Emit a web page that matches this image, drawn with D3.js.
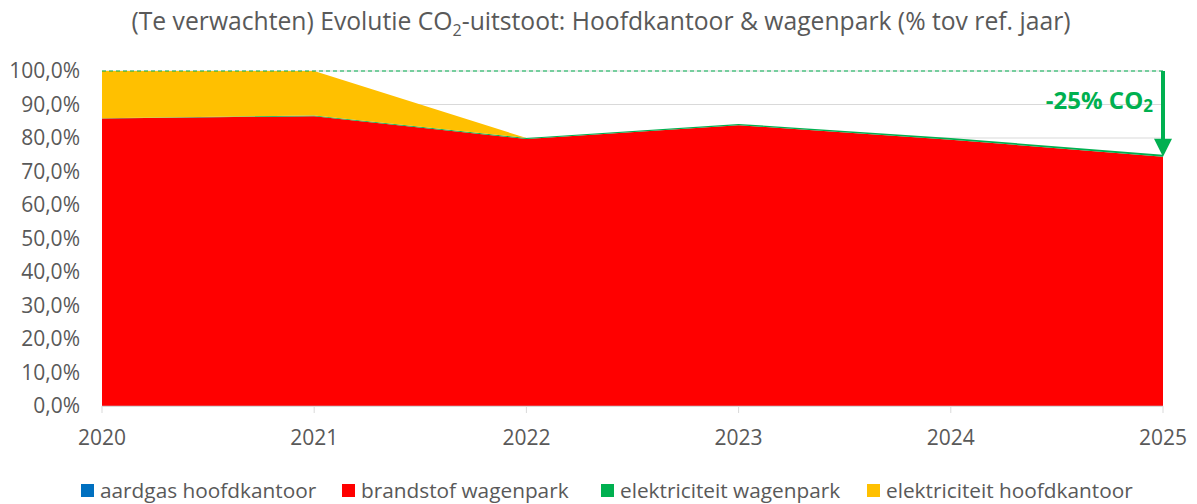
<!DOCTYPE html>
<html>
<head>
<meta charset="utf-8">
<script src="https://cdn.jsdelivr.net/npm/d3@7.9.0/dist/d3.min.js"></script>
<style>
  body { margin: 0; background: #fff; }
  svg { font-family: "Open Sans", sans-serif; }
</style>
</head>
<body>
<svg width="1197" height="504"></svg>
<script>
const years = [2020, 2021, 2022, 2023, 2024, 2025];
const aardgasHoofdkantoor = [0.1, 0.1, 0.1, 0.1, 0.1, 0.1];
const brandstofWagenpark = [85.7, 86.4, 79.6, 83.7, 79.4, 74.3];
const elektriciteitWagenpark = [0.1, 0.2, 0.3, 0.4, 0.5, 0.6];
const elektriciteitHoofdkantoor = [14.1, 13.3, 0, 0, 0, 0];
const seriesNames = ['aardgas hoofdkantoor', 'brandstof wagenpark', 'elektriciteit wagenpark', 'elektriciteit hoofdkantoor'];
const seriesColors = ['#0070C0', '#FF0000', '#00B050', '#FFC000'];
const yTicks = [0, 10, 20, 30, 40, 50, 60, 70, 80, 90, 100];

const rows = years.map((year, i) => ({
  year,
  'aardgas hoofdkantoor': aardgasHoofdkantoor[i],
  'brandstof wagenpark': brandstofWagenpark[i],
  'elektriciteit wagenpark': elektriciteitWagenpark[i],
  'elektriciteit hoofdkantoor': elektriciteitHoofdkantoor[i]
}));

const svg = d3.select('svg');
const x = d3.scaleLinear().domain([2020, 2025]).range([102, 1163]);
const y = d3.scaleLinear().domain([0, 100]).range([406, 71]);
const grey = '#595959';

// gridlines
svg.append('g')
  .selectAll('line')
  .data(yTicks.slice(1))
  .join('line')
  .attr('x1', x(2020)).attr('x2', x(2025))
  .attr('y1', d => y(d)).attr('y2', d => y(d))
  .attr('stroke', '#d9d9d9').attr('stroke-width', 1);

// stacked areas
const stack = d3.stack().keys(seriesNames);
const layers = stack(rows);
const area = d3.area()
  .x(d => x(d.data.year))
  .y0(d => y(d[0]))
  .y1(d => y(d[1]));

svg.append('g')
  .selectAll('path')
  .data(layers)
  .join('path')
  .attr('d', area)
  .attr('fill', (d, i) => seriesColors[i]);

// x axis
svg.append('line')
  .attr('x1', x(2020)).attr('x2', x(2025))
  .attr('y1', y(0) + 0.5).attr('y2', y(0) + 0.5)
  .attr('stroke', '#d9d9d9');
svg.append('g')
  .selectAll('line')
  .data(years)
  .join('line')
  .attr('x1', d => x(d)).attr('x2', d => x(d))
  .attr('y1', y(0)).attr('y2', y(0) + 7)
  .attr('stroke', '#d9d9d9');
svg.append('g')
  .selectAll('text')
  .data(years)
  .join('text')
  .attr('x', d => x(d))
  .attr('y', 445)
  .attr('text-anchor', 'middle')
  .attr('fill', grey)
  .style('font-size', '21px')
  .text(d => d);

// y axis labels
svg.append('g')
  .selectAll('text')
  .data(yTicks)
  .join('text')
  .attr('x', 80)
  .attr('y', d => y(d) + 7)
  .attr('text-anchor', 'end')
  .attr('fill', grey)
  .style('font-size', '21px')
  .text(d => d.toFixed(1).replace('.', ',') + '%');

// title
const title = svg.append('text')
  .attr('x', 601)
  .attr('y', 30)
  .attr('text-anchor', 'middle')
  .attr('fill', grey)
  .style('font-size', '24.7px');
title.append('tspan').text('(Te verwachten) Evolutie CO');
title.append('tspan').attr('dy', 6).style('font-size', '16px').text('2');
title.append('tspan').attr('dy', -6).text('-uitstoot: Hoofdkantoor & wagenpark (% tov ref. jaar)');

// reduction annotation
const green = '#00B050';
const total2025 = rows[5]['aardgas hoofdkantoor'] + rows[5]['brandstof wagenpark'] +
  rows[5]['elektriciteit wagenpark'] + rows[5]['elektriciteit hoofdkantoor'];
svg.append('line')
  .attr('x1', x(2020)).attr('x2', x(2025))
  .attr('y1', y(100)).attr('y2', y(100))
  .attr('stroke', green).attr('stroke-width', 1.2)
  .attr('stroke-dasharray', '4,3');
svg.append('line')
  .attr('x1', x(2025)).attr('x2', x(2025))
  .attr('y1', y(100)).attr('y2', y(total2025) - 14)
  .attr('stroke', green).attr('stroke-width', 4);
svg.append('path')
  .attr('d', `M${x(2025) - 9},${y(total2025) - 16} L${x(2025) + 9},${y(total2025) - 16} L${x(2025)},${y(total2025) + 2} Z`)
  .attr('fill', green);
const note = svg.append('text')
  .attr('x', 1153)
  .attr('y', 109)
  .attr('text-anchor', 'end')
  .attr('fill', green)
  .style('font-size', '24px')
  .style('font-weight', 'bold');
note.append('tspan').text('-25% CO');
note.append('tspan').attr('dy', 3).style('font-size', '17px').text('2');

// legend
const legendX = [81, 342, 601, 867];
const legend = svg.append('g');
seriesNames.forEach((name, i) => {
  legend.append('rect')
    .attr('x', legendX[i]).attr('y', 484)
    .attr('width', 13).attr('height', 13)
    .attr('fill', seriesColors[i]);
  legend.append('text')
    .attr('x', legendX[i] + 19).attr('y', 498)
    .attr('fill', grey)
    .style('font-size', '20.8px')
    .text(name);
});
</script>
</body>
</html>
